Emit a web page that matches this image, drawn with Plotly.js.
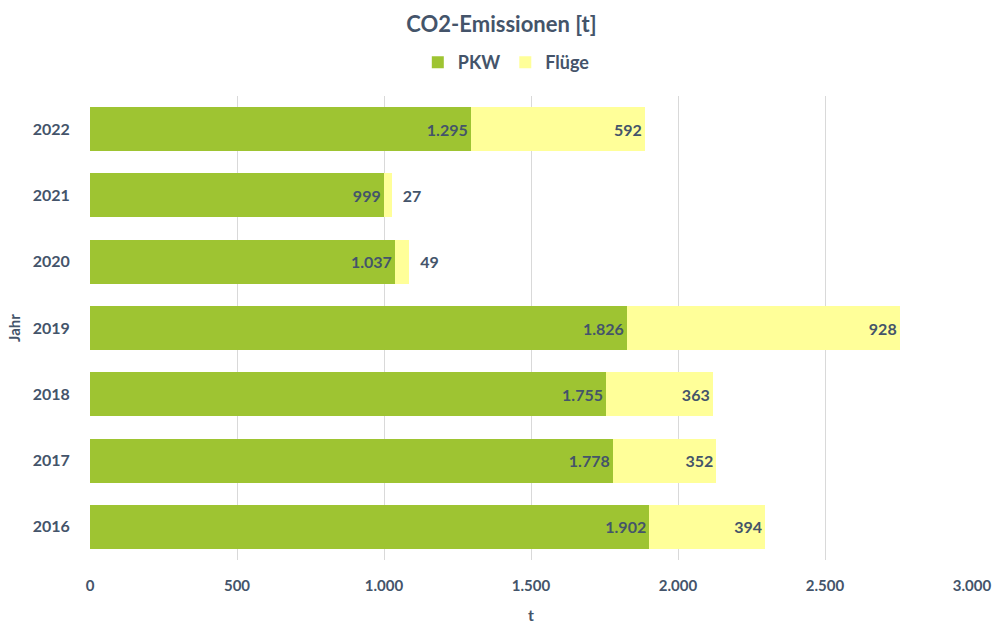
<!DOCTYPE html>
<html>
<head>
<meta charset="utf-8">
<script src="https://cdn.plot.ly/plotly-3.0.1.min.js"></script>
<style>html,body{margin:0;padding:0;background:#fff;}#chart{width:1003px;height:634px;}</style>
</head>
<body>
<div id="chart"></div>
<script>
const years = ['2016','2017','2018','2019','2020','2021','2022'];
const pkw = [1902, 1778, 1755, 1826, 1037, 999, 1295];
const fluege = [394, 352, 363, 928, 49, 27, 592];
const xTicks = [0, 500, 1000, 1500, 2000, 2500, 3000];

const textColor = '#44546A';
const fontFam = 'Lato, "Open Sans", sans-serif';

const fmt = v => v.toLocaleString('de-DE');
const fluegePos = fluege.map(v => v < 100 ? 'outside' : 'inside');
const fluegeText = fluege.map(v => (v < 100 ? '\u2002' : '') + fmt(v));

const valueFont = {color: textColor, size: 16, family: fontFam, weight: 'bold'};

const traces = [
  {
    type: 'bar', orientation: 'h', name: 'PKW',
    y: years, x: pkw,
    marker: {color: '#9EC432'},
    text: pkw.map(fmt), texttemplate: '%{text}',
    textposition: 'inside', insidetextanchor: 'end',
    textfont: valueFont, insidetextfont: valueFont,
    hoverinfo: 'x+name'
  },
  {
    type: 'bar', orientation: 'h', name: 'Flüge',
    y: years, x: fluege,
    marker: {color: '#FFFF99'},
    text: fluegeText, texttemplate: '%{text}',
    textposition: fluegePos, insidetextanchor: 'end',
    textfont: valueFont, insidetextfont: valueFont, outsidetextfont: valueFont,
    cliponaxis: false,
    hoverinfo: 'x+name'
  }
];

const layout = {
  width: 1003, height: 634,
  separators: ',.',
  barmode: 'stack',
  bargap: 0.335,
  paper_bgcolor: '#fff', plot_bgcolor: '#fff',
  margin: {l: 90, r: 31, t: 96, b: 74, autoexpand: false},
  font: {family: fontFam, color: textColor, size: 14, weight: 'bold'},
  title: {
    text: 'CO2-Emissionen [t]',
    font: {size: 22, color: textColor, family: fontFam, weight: 'bold'},
    x: 0.5, xanchor: 'center', xref: 'container', y: 0.962, yanchor: 'middle'
  },
  showlegend: true,
  legend: {
    orientation: 'h', x: 0.472, xanchor: 'center', xref: 'paper', y: 1.072, yanchor: 'middle',
    font: {size: 18, color: textColor, family: fontFam, weight: 'bold'},
    traceorder: 'normal', itemwidth: 30
  },
  xaxis: {
    range: [0, 3000],
    tickvals: xTicks,
    tickformat: ',',
    showgrid: true, gridcolor: '#D9D9D9', gridwidth: 1,
    zeroline: false, showline: false,
    ticks: 'outside', ticklen: 12, tickcolor: 'rgba(0,0,0,0)',
    tickfont: {size: 15, color: textColor, family: fontFam, weight: 'bold'},
    title: {text: 't', font: {size: 16, color: textColor, family: fontFam, weight: 'bold'}, standoff: 16},
    fixedrange: true
  },
  yaxis: {
    type: 'category',
    categoryorder: 'array', categoryarray: years,
    showgrid: false, zeroline: false, showline: false,
    ticks: 'outside', ticklen: 16, tickcolor: 'rgba(0,0,0,0)',
    tickfont: {size: 16, color: textColor, family: fontFam, weight: 'bold'},
    title: {text: 'Jahr', font: {size: 15, color: textColor, family: fontFam, weight: 'bold'}, standoff: 8},
    fixedrange: true
  }
};

Plotly.newPlot('chart', traces, layout, {displayModeBar: false, staticPlot: true});
</script>
</body>
</html>
